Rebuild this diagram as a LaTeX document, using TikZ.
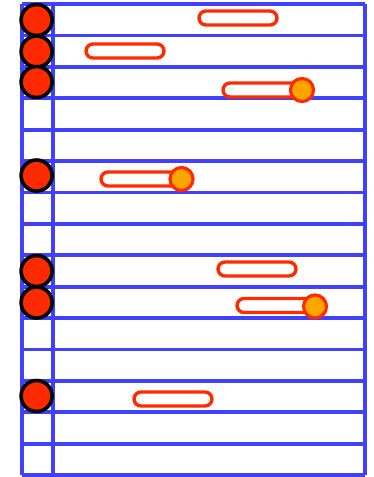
\documentclass[tikz,border=0pt]{standalone}
\usetikzlibrary{calc}
\definecolor{gridblue}{HTML}{4040FF}
\definecolor{dotred}{HTML}{FF2A00}
\definecolor{knoborange}{HTML}{FFA500}
\tikzset{
  gridline/.style={draw=gridblue,line width=3.8pt},
  reddot/.style={circle,draw=black,fill=dotred,line width=3.6pt,minimum size=31pt,inner sep=0pt},
  pill/.style={rectangle,draw=dotred,fill=white,line width=3.4pt,minimum width=78pt,minimum height=14pt,rounded corners=7pt,inner sep=0pt},
  knob/.style={circle,draw=dotred,fill=knoborange,line width=3.2pt,minimum size=23pt,inner sep=0pt}
}
\begin{document}
\begin{tikzpicture}[x=1pt,y=-1pt]
\useasboundingbox (0,0) rectangle (374,477);
% grid
\foreach \i in {0,...,15} {
  \draw[gridline] (22.3,{4+\i*31.4}) -- (365,{4+\i*31.4});
}
\draw[gridline] (22.3,4) -- (22.3,475);
\draw[gridline] (52.8,4) -- (52.8,475);
\draw[gridline] (365,4) -- (365,475);
% red dots
\node[reddot] (d1) at (36.6,20) {};
\node[reddot] (d2) at (36.6,51.5) {};
\node[reddot] (d3) at (36.6,82) {};
\node[reddot] (d6) at (36.6,175.5) {};
\node[reddot] (d9) at (36.6,271) {};
\node[reddot] (d10) at (36.6,302.5) {};
\node[reddot] (d13) at (36.6,396) {};
% pills
\node[pill] (p1) at (238,18) {};
\node[pill] (p2) at (125,51) {};
\node[pill] (p3) at (262,90) {};
\node[pill] (p6) at (140,179) {};
\node[pill] (p9) at (257,269) {};
\node[pill] (p10) at (276,305.5) {};
\node[pill] (p13) at (173,399) {};
% knobs
\node[knob] (k3) at (302,90) {};
\node[knob] (k6) at (181.5,179) {};
\node[knob] (k10) at (315,306.5) {};
\end{tikzpicture}
\end{document}
